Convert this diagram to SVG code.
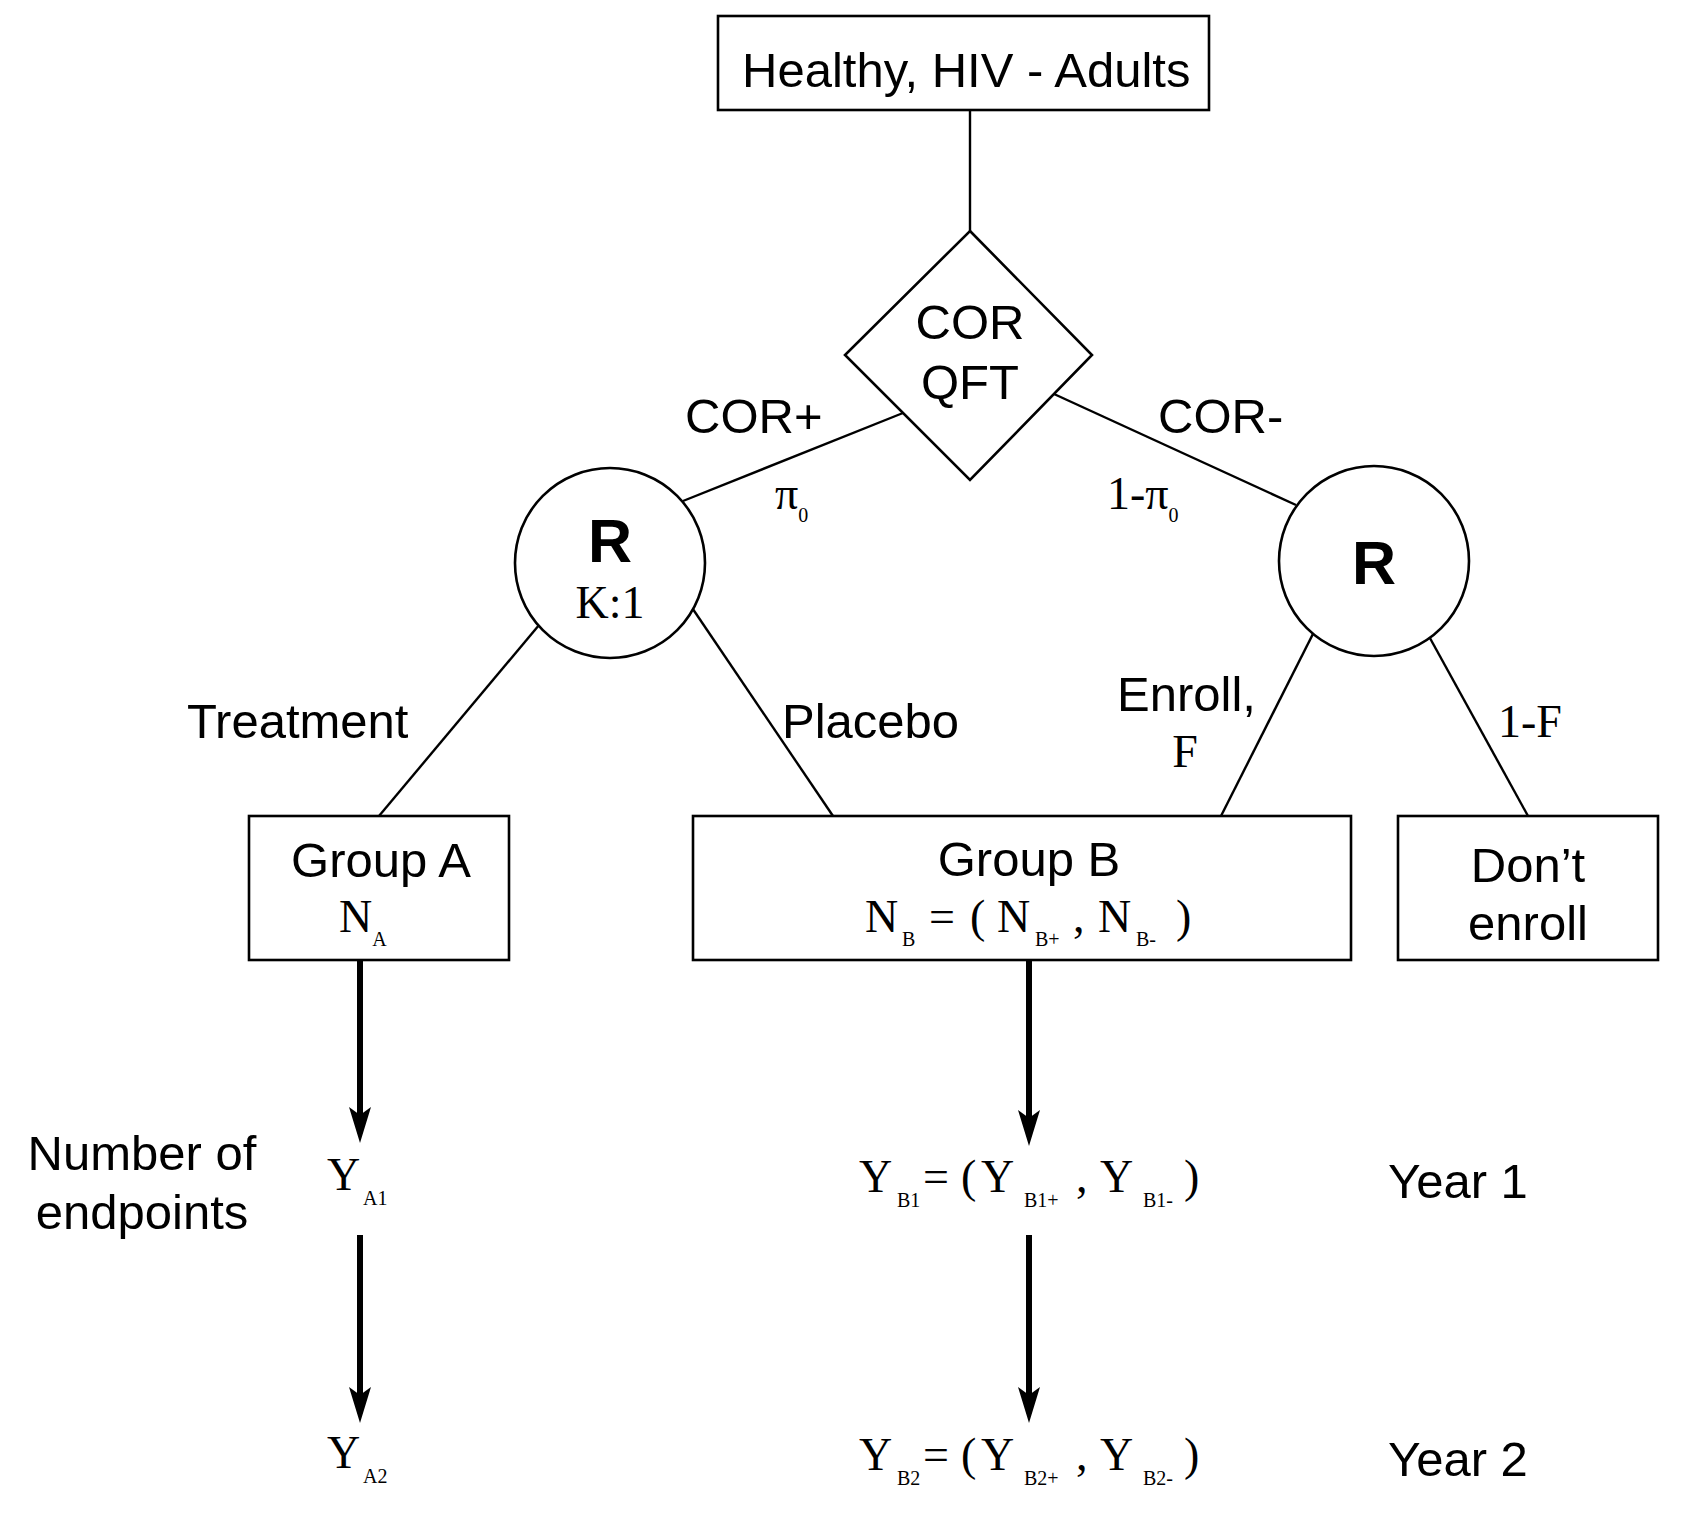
<svg xmlns="http://www.w3.org/2000/svg" width="1698" height="1518" viewBox="0 0 1698 1518">
<style>
.s{font-family:"Liberation Sans",Arial,sans-serif;font-size:49px;fill:#000}
.b{font-family:"Liberation Sans",Arial,sans-serif;font-size:61px;font-weight:bold;fill:#000}
.t{font-family:"Liberation Serif","Times New Roman",serif;font-size:46px;fill:#000}
.sub{font-size:20px}
.shape{fill:#fff;stroke:#000;stroke-width:2.6}
.ln{stroke:#000;stroke-width:2.4;fill:none}
.th{stroke:#000;stroke-width:6;fill:none}
</style>
<defs>
<marker id="ah" markerUnits="userSpaceOnUse" viewBox="0 0 36 22" refX="16" refY="11" markerWidth="36" markerHeight="22" orient="auto">
<path d="M0,0 L36,11 L0,22 L8,11 Z" fill="#000"/>
</marker>
</defs>
<rect width="1698" height="1518" fill="#fff"/>
<g id="connectors">
<line class="ln" x1="970" y1="110" x2="970" y2="231"/>
<line class="ln" x1="903" y1="413" x2="683" y2="501"/>
<line class="ln" x1="1054" y1="394" x2="1296" y2="505"/>
<line class="ln" x1="560" y1="600" x2="379" y2="816"/>
<line class="ln" x1="680" y1="590" x2="833" y2="816"/>
<line class="ln" x1="1320" y1="620" x2="1221" y2="816"/>
<line class="ln" x1="1420" y1="620" x2="1528" y2="816"/>
<line class="th" x1="360" y1="960" x2="360" y2="1123" marker-end="url(#ah)"/>
<line class="th" x1="360" y1="1235" x2="360" y2="1403" marker-end="url(#ah)"/>
<line class="th" x1="1029" y1="960" x2="1029" y2="1126" marker-end="url(#ah)"/>
<line class="th" x1="1029" y1="1235" x2="1029" y2="1403" marker-end="url(#ah)"/>
</g>
<g id="labels">
<text class="s" x="685" y="433">COR+</text>
<text class="s" x="1158" y="433">COR-</text>
<text class="t" x="775" y="509">π<tspan class="sub" dy="13">0</tspan></text>
<text class="t" x="1107" y="509">1-π<tspan class="sub" dy="13">0</tspan></text>
<text class="s" x="187" y="738">Treatment</text>
<text class="s" x="782" y="738">Placebo</text>
<text class="s" x="1117" y="711">Enroll,</text>
<text class="t" x="1185" y="767" text-anchor="middle">F</text>
<text class="t" x="1498" y="737">1-F</text>
<text class="s" x="142" y="1170" text-anchor="middle">Number of</text>
<text class="s" x="142" y="1229" text-anchor="middle">endpoints</text>
<text class="s" x="1388" y="1198">Year 1</text>
<text class="s" x="1388" y="1476">Year 2</text>
</g>
<g id="start">
<rect class="shape" x="718" y="16" width="491" height="94"/>
<text class="s" x="742" y="87">Healthy, HIV - Adults</text>
</g>
<g id="cor-qft">
<polygon class="shape" points="970,231 1092,355 970,480 845,355"/>
<text class="s" x="970" y="339" text-anchor="middle">COR</text>
<text class="s" x="970" y="399" text-anchor="middle">QFT</text>
</g>
<g id="r-left">
<circle class="shape" cx="610" cy="563" r="95"/>
<text class="b" x="610" y="562" text-anchor="middle">R</text>
<text class="t" x="610" y="618" text-anchor="middle">K:1</text>
</g>
<g id="r-right">
<circle class="shape" cx="1374" cy="561" r="95"/>
<text class="b" x="1374" y="584" text-anchor="middle">R</text>
</g>
<g id="group-a">
<rect class="shape" x="249" y="816" width="260" height="144"/>
<text class="s" x="381" y="877" text-anchor="middle">Group A</text>
<text class="t" x="339" y="932">N<tspan class="sub" dy="14">A</tspan></text>
</g>
<g id="group-b">
<rect class="shape" x="693" y="816" width="658" height="144"/>
<text class="s" x="1029" y="876" text-anchor="middle">Group B</text>
<text class="t" y="932"><tspan x="865">N</tspan><tspan class="sub" x="902" dy="14">B</tspan><tspan x="929" dy="-14">=</tspan><tspan x="970">(</tspan><tspan x="997">N</tspan><tspan class="sub" x="1035" dy="14">B+</tspan><tspan x="1073" dy="-14">,</tspan><tspan x="1098">N</tspan><tspan class="sub" x="1136" dy="14">B-</tspan><tspan x="1176" dy="-14">)</tspan></text>
</g>
<g id="dont-enroll">
<rect class="shape" x="1398" y="816" width="260" height="144"/>
<text class="s" x="1528" y="882" text-anchor="middle">Don’t</text>
<text class="s" x="1528" y="940" text-anchor="middle">enroll</text>
</g>
<g id="ya1">
<text class="t" x="327" y="1190">Y<tspan class="sub" x="363" dy="15">A1</tspan></text>
</g>
<g id="ya2">
<text class="t" x="327" y="1468">Y<tspan class="sub" x="363" dy="15">A2</tspan></text>
</g>
<g id="yb1">
<text class="t" y="1192"><tspan x="859">Y</tspan><tspan class="sub" x="897" dy="15">B1</tspan><tspan x="923" dy="-15">=</tspan><tspan x="961">(</tspan><tspan x="981">Y</tspan><tspan class="sub" x="1024" dy="15">B1+</tspan><tspan x="1076" dy="-15">,</tspan><tspan x="1100">Y</tspan><tspan class="sub" x="1143" dy="15">B1-</tspan><tspan x="1184" dy="-15">)</tspan></text>
</g>
<g id="yb2">
<text class="t" y="1470"><tspan x="859">Y</tspan><tspan class="sub" x="897" dy="15">B2</tspan><tspan x="923" dy="-15">=</tspan><tspan x="961">(</tspan><tspan x="981">Y</tspan><tspan class="sub" x="1024" dy="15">B2+</tspan><tspan x="1076" dy="-15">,</tspan><tspan x="1100">Y</tspan><tspan class="sub" x="1143" dy="15">B2-</tspan><tspan x="1184" dy="-15">)</tspan></text>
</g>
</svg>
